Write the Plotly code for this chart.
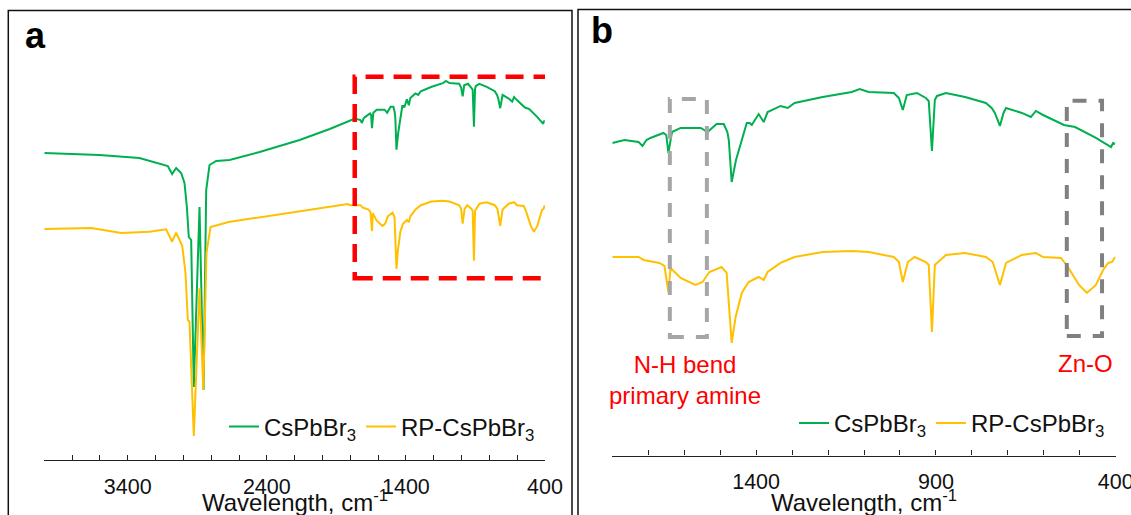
import numpy as np
import plotly.graph_objects as go

# ---------------- data (FTIR spectra, arbitrary transmittance units, offset) ----------------
wn_cs = [4000, 3604, 3316, 3244, 3112, 3081, 3052, 3016, 2992, 2975, 2961, 2944, 2925, 2884, 2855,
         2836, 2812, 2764, 2668, 2452, 2164, 1948, 1818, 1800, 1766, 1727, 1716, 1705, 1694, 1658,
         1650, 1644, 1634, 1610, 1554, 1535, 1510, 1490, 1480, 1476, 1468, 1456, 1440, 1426, 1418,
         1412, 1393, 1379, 1368, 1332, 1312, 1293, 1215, 1134, 1112, 1087, 1017, 1003, 992, 981,
         953, 928, 920, 911, 903, 897, 872, 819, 761, 745, 736, 722, 712, 705, 661, 636, 622, 602,
         544, 513, 455, 413, 407, 402]
t_cs = [307, 305, 302, 299, 294, 286, 292, 287, 277, 253, 223, 220, 73, 253, 70,
        270, 295, 299, 300, 308, 320, 331, 338, 339.2, 341.4, 339.9, 337.0, 341.4, 342.9, 346.6,
        345.1, 331.8, 347.3, 350.3, 350.3, 347.3, 353.2, 353.2, 347.3, 341.4, 310.3, 326.6, 341.4, 354.0, 354.0,
        352.5, 360.6, 354.7, 362.1, 366.6, 365.1, 368.8, 373.2, 376.9, 379.1, 376.9, 376.2, 372.5, 363.6, 374.7,
        376.2, 372.5, 370.3, 333.3, 371.0, 374.0, 376.2, 373.2, 368.8, 365.1, 361.4, 351.8, 361.4, 365.1,
        361.4, 358.4, 362.9, 359.9, 352.5, 351.0, 342.9, 336.2, 339.2, 338.4]

wn_rp = [4000, 3662, 3446, 3244, 3124, 3081, 3052, 3008, 2985, 2968, 2956, 2925, 2884, 2857, 2834,
         2805, 2675, 2193, 1818, 1800, 1727, 1713, 1669, 1655, 1644, 1638, 1610, 1569, 1549, 1530,
         1496, 1482, 1471, 1468, 1457, 1440, 1421, 1393, 1379, 1368, 1332, 1312, 1293, 1215, 1134,
         1087, 1017, 1003, 992, 978, 959, 928, 920, 911, 903, 897, 872, 819, 761, 742, 722, 705,
         661, 622, 602, 552, 533, 502, 480, 455, 435, 421, 410, 402]
t_rp = [231, 232, 227, 228.3, 230.7, 218.3, 227.3, 214, 187, 140, 138.3, 24, 171.7, 70, 207,
        233, 238, 248, 256, 254.8, 254.8, 252.6, 250.4, 248.2, 228.9, 246.7, 239.3, 234.1, 236.3, 243.7,
        247.4, 243.0, 203.0, 191.2, 210.4, 228.2, 236.3, 240.0, 237.8, 243.7, 250.4, 252.6, 254.8, 258.5, 259.3,
        258.5, 254.8, 251.1, 236.3, 251.1, 254.8, 251.1, 248.9, 199.3, 248.9, 250.4, 256.3, 257.8, 254.8, 251.1,
        234.1, 250.4, 256.3, 257.8, 254.8, 254.1, 247.4, 234.1, 228.2, 234.1, 245.2, 250.4, 251.1, 254.8]

series_names = ["CsPbBr<sub>3</sub>", "RP-CsPbBr<sub>3</sub>"]
tick_labels_a = [3400, 2400, 1400, 400]
tick_labels_b = [1400, 900, 400]
panel_labels = ["a", "b"]
axis_title = "Wavelength, cm<sup>-1</sup>"
band_labels = ["N-H bend<br>primary amine", "Zn-O"]

# ---------------- styling ----------------
W, H = 1131, 515
GREEN, YELLOW = "#00b050", "#ffc000"
FONT = "Liberation Sans, Arial, sans-serif"

fig = go.Figure()

def add_series(xs, ys, name, color, xa, ya, legend, xmax):
    xs = np.asarray(xs, float)
    ys = np.asarray(ys, float)
    m = xs <= xmax
    fig.add_trace(go.Scatter(x=xs[m], y=ys[m], mode="lines", name=name,
                             line=dict(color=color, width=2),
                             xaxis=xa, yaxis=ya, legend=legend, hoverinfo="skip"))

add_series(wn_cs, t_cs, series_names[0], GREEN, "x", "y", "legend", 4000)
add_series(wn_rp, t_rp, series_names[1], YELLOW, "x", "y", "legend", 4000)
add_series(wn_cs, t_cs, series_names[0], GREEN, "x2", "y2", "legend2", 1800)
add_series(wn_rp, t_rp, series_names[1], YELLOW, "x2", "y2", "legend2", 1800)

def xaxis_cfg(domain, rng, step, labels, anchor):
    vals = list(range(int(rng[1]), int(rng[0]) + 1, step))
    text = [str(v) if v in labels else "" for v in vals]
    return dict(domain=domain, range=rng, anchor=anchor, tickmode="array", tickvals=vals, ticktext=text,
                ticks="inside", ticklen=5, tickwidth=1.3, tickcolor="#222",
                showline=True, linecolor="#222", linewidth=1.3, automargin=False,
                ticklabeloverflow="allow",
                showgrid=False, zeroline=False, ticklabelstandoff=7,
                tickfont=dict(family=FONT, size=21.5, color="#111"))

fig.update_layout(
    template="none",
    width=W, height=H, autosize=False,
    margin=dict(l=0, r=0, t=0, b=0, autoexpand=False),
    paper_bgcolor="white", plot_bgcolor="rgba(0,0,0,0)",
    font=dict(family=FONT, color="#111"),
    xaxis=xaxis_cfg([44.3 / W, 545 / W], [4000, 400], 200, tick_labels_a, "y"),
    yaxis=dict(domain=[(H - 460) / H, 1], range=[0, 460], visible=False),
    xaxis2=xaxis_cfg([612.3 / W, 1115.7 / W], [1800, 400], 100, tick_labels_b, "y2"),
    yaxis2=dict(domain=[(H - 455.5) / H, 1], range=[107.9, 445], visible=False, anchor="x2"),
    legend=dict(orientation="h", x=540 / W, y=1 - 427 / H, xanchor="right", yanchor="middle",
                bgcolor="rgba(0,0,0,0)", font=dict(family=FONT, size=24, color="#111")),
    legend2=dict(orientation="h", x=1110 / W, y=1 - 423.3 / H, xanchor="right", yanchor="middle",
                 bgcolor="rgba(0,0,0,0)", font=dict(family=FONT, size=24, color="#111")),
    showlegend=True,
)

# panel frames
fig.add_shape(type="rect", xref="paper", yref="paper", x0=8.3 / W, x1=572 / W,
              y0=-0.1, y1=1 - 10.5 / H, line=dict(color="#111", width=1.5), layer="below")
fig.add_shape(type="rect", xref="paper", yref="paper", x0=578 / W, x1=1.1,
              y0=-0.1, y1=1 - 9.5 / H, line=dict(color="#111", width=1.5), layer="below")

# highlight boxes
fig.add_shape(type="rect", xref="x", yref="y", x0=1768, x1=376, y0=181.7, y1=383.3,
              line=dict(color="#ff0000", width=4.5, dash="18px,10px"))
fig.add_shape(type="rect", xref="x2", yref="y2", x0=1640, x1=1537, y0=195.6, y1=371.7,
              line=dict(color="#a6a6a6", width=4, dash="14px,12px"))
fig.add_shape(type="rect", xref="x2", yref="y2", x0=536, x1=438, y0=196.4, y1=370.5,
              line=dict(color="#808080", width=4, dash="14px,12px"))

# panel letters
fig.add_annotation(text="<b>%s</b>" % panel_labels[0], xref="paper", yref="paper",
                   x=35 / W, y=1 - 35.7 / H, xanchor="center", yanchor="middle", showarrow=False,
                   font=dict(family=FONT, size=36, color="#000"))
fig.add_annotation(text="<b>%s</b>" % panel_labels[1], xref="paper", yref="paper",
                   x=602.4 / W, y=1 - 30.4 / H, xanchor="center", yanchor="middle", showarrow=False,
                   font=dict(family=FONT, size=36, color="#000"))

# axis titles
for xc in (294.5, 864):
    fig.add_annotation(text=axis_title, xref="paper", yref="paper", x=xc / W, y=1 - 501 / H,
                       xanchor="center", yanchor="middle", showarrow=False,
                       font=dict(family=FONT, size=24, color="#111"))

# band labels
fig.add_annotation(text=band_labels[0], xref="paper", yref="paper", x=685 / W, y=1 - 379.5 / H,
                   xanchor="center", yanchor="middle", showarrow=False,
                   font=dict(family=FONT, size=24, color="#ff0000"))
fig.add_annotation(text=band_labels[1], xref="paper", yref="paper", x=1085 / W, y=1 - 363 / H,
                   xanchor="center", yanchor="middle", showarrow=False,
                   font=dict(family=FONT, size=24, color="#ff0000"))

fig.write_html("out.html")
